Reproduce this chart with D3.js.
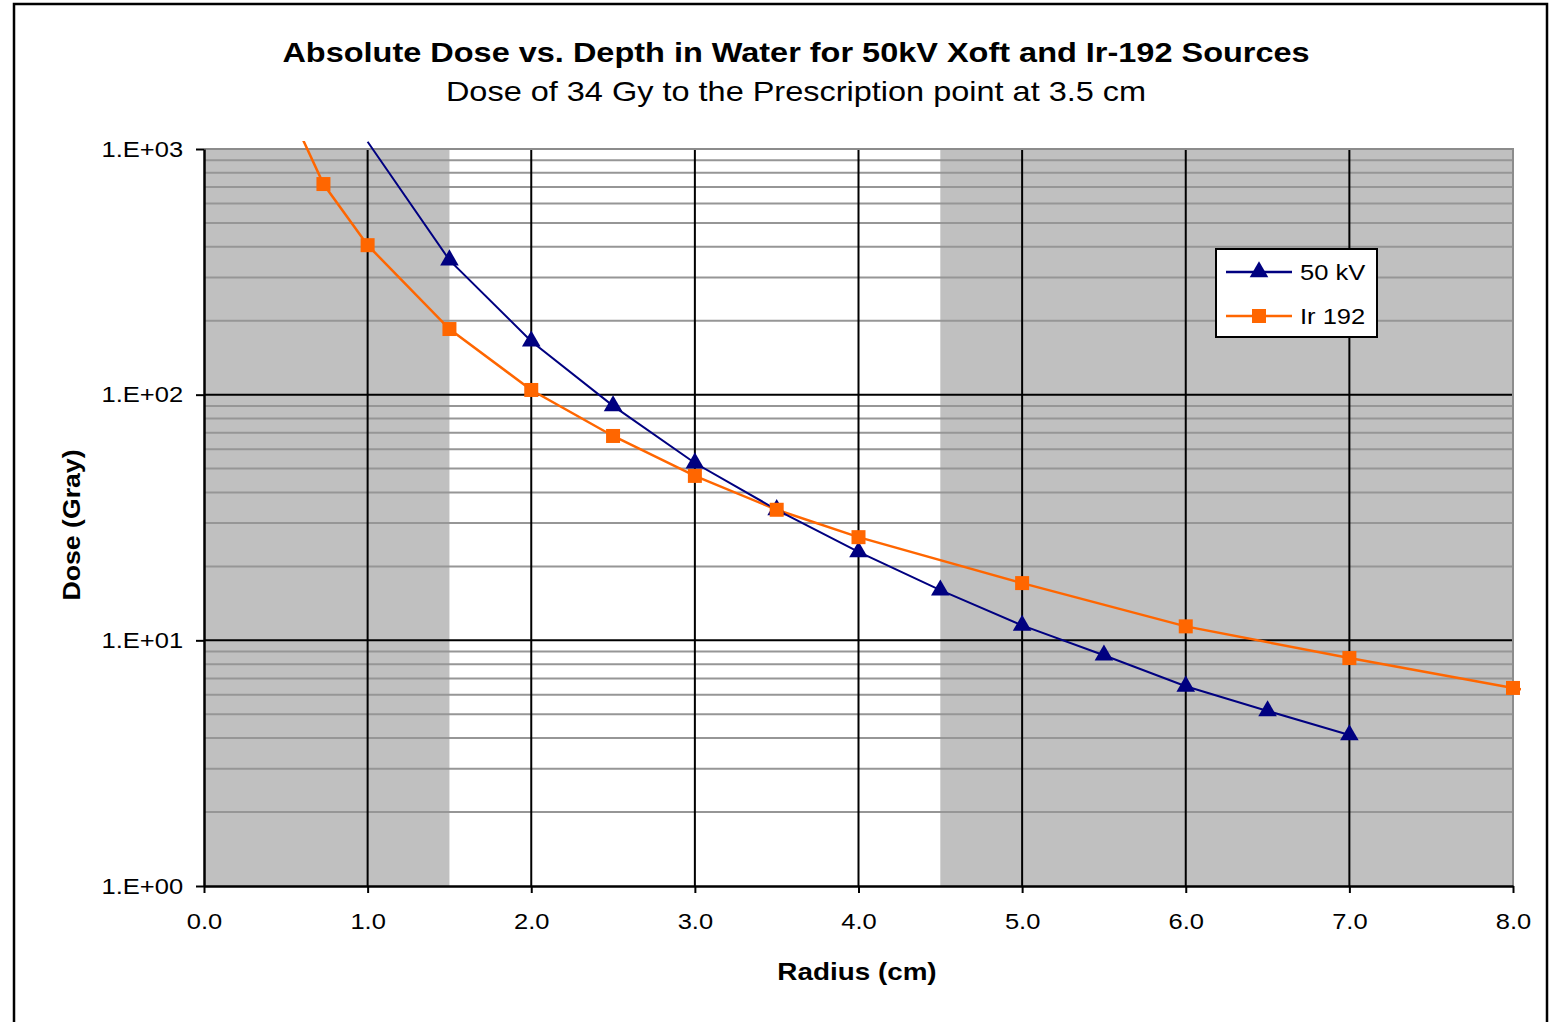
<!DOCTYPE html>
<meta charset="utf-8">
<style>
body { margin: 0; background: #fff; }
text { font-family: "Liberation Sans", Arial, sans-serif; fill: #000; }
.minor { stroke: #969696; stroke-width: 2px; }
.major { stroke: #000; stroke-width: 2px; }
</style>
<svg width="1549" height="1022"></svg>
<script src="https://cdn.jsdelivr.net/npm/d3@7"></script>
<script>
// radius in cm, dose in Gy
const kvRadius = [1.0, 1.5, 2.0, 2.5, 3.0, 3.5, 4.0, 4.5, 5.0, 5.5, 6.0, 6.5, 7.0];
const kvDose   = [1070, 353, 165, 90, 52.7, 34, 22.9, 16.0, 11.5, 8.7, 6.5, 5.16, 4.12];
const irRadius = [0.5, 0.73, 1.0, 1.5, 2.0, 2.5, 3.0, 3.5, 4.0, 5.0, 6.0, 7.0, 8.0, 9.0];
const irDose   = [1545, 720, 406, 185, 104.5, 67.9, 46.7, 34, 26.3, 17.1, 11.4, 8.47, 6.4, 4.9];
const xTicks = [0, 1, 2, 3, 4, 5, 6, 7, 8];
const yTicks = [1, 10, 100, 1000];
const yTickLabels = ['1.E+00', '1.E+01', '1.E+02', '1.E+03'];
const shadedBands = [[0, 1.5], [4.5, 8]];
const seriesNames = ['50 kV', 'Ir 192'];

const SX = 1.16; // the text in the original is drawn a little wide

let svg = d3.select('svg');

let x = d3.scaleLinear().domain([0, 8]).range([204, 1513]);
let y = d3.scaleLog().domain([1, 1000]).range([886, 149]);

// outer frame
svg.append('rect')
    .attr('x', 14).attr('y', 4).attr('width', 1533).attr('height', 1040)
    .attr('fill', 'none').attr('stroke', '#000').attr('stroke-width', 2.5);

// shaded bands
svg.append('g').selectAll('rect')
    .data(shadedBands)
    .enter().append('rect')
        .attr('x', d => x(d[0]))
        .attr('width', d => x(d[1]) - x(d[0]))
        .attr('y', y(1000))
        .attr('height', y(1) - y(1000))
        .attr('fill', '#c0c0c0');

// minor horizontal grid
let minor = [];
for (let dec of [1, 10, 100]) for (let m = 2; m <= 9; m++) minor.push(dec * m);
svg.append('g').selectAll('line')
    .data(minor)
    .enter().append('line')
        .attr('class', 'minor')
        .attr('x1', x(0)).attr('x2', x(8))
        .attr('y1', d => y(d)).attr('y2', d => y(d));

// major grid
svg.append('g').selectAll('line')
    .data([10, 100])
    .enter().append('line')
        .attr('class', 'major')
        .attr('x1', x(0)).attr('x2', x(8))
        .attr('y1', d => y(d)).attr('y2', d => y(d));
svg.append('g').selectAll('line')
    .data(xTicks.slice(1, -1))
    .enter().append('line')
        .attr('class', 'major')
        .attr('x1', d => x(d)).attr('x2', d => x(d))
        .attr('y1', y(1000)).attr('y2', y(1));

// plot area border top/right (gray)
svg.append('path')
    .attr('d', `M${x(0)},${y(1000)}H${x(8)}V${y(1)}`)
    .attr('fill', 'none').attr('stroke', '#8c8c8c').attr('stroke-width', 2);

// axes
let xAxis = svg.append('g')
    .attr('transform', `translate(0,${y(1)})`)
    .call(d3.axisBottom(x).tickValues(xTicks).tickFormat(d3.format('.1f')).tickSizeInner(7).tickSizeOuter(0).tickPadding(20));
let yAxis = svg.append('g')
    .attr('transform', `translate(${x(0)},0)`)
    .call(d3.axisLeft(y).tickValues(yTicks).tickFormat((d, i) => yTickLabels[i]).tickSizeInner(8).tickSizeOuter(0).tickPadding(10));
for (let ax of [xAxis, yAxis]) {
    ax.select('.domain').attr('stroke', '#000').attr('stroke-width', 2.5);
    ax.selectAll('.tick line').attr('stroke', '#000').attr('stroke-width', 2);
    ax.selectAll('.tick text')
        .attr('font-size', 22)
        .attr('font-family', '"Liberation Sans", Arial, sans-serif')
        .attr('transform', `scale(${SX},1)`);
}

// series
svg.append('defs').append('clipPath').attr('id', 'clip')
    .append('rect').attr('x', 0).attr('y', 141).attr('width', 1521).attr('height', 760);

let line = d3.line().x(d => x(d[0])).y(d => y(d[1]));
let kv = kvRadius.map((r, i) => [r, kvDose[i]]);
let ir = irRadius.map((r, i) => [r, irDose[i]]);

let g = svg.append('g').attr('clip-path', 'url(#clip)');
g.append('path').datum(ir).attr('d', line)
    .attr('fill', 'none').attr('stroke', '#ff6600').attr('stroke-width', 2.5);
g.append('path').datum(kv).attr('d', line)
    .attr('fill', 'none').attr('stroke', '#000080').attr('stroke-width', 2);

let inside = d => d[1] <= 1000 && d[0] <= 8;
let tri = d3.symbol().type(d3.symbolTriangle).size(150);
svg.append('g').selectAll('path')
    .data(kv.filter(inside))
    .enter().append('path')
        .attr('d', tri)
        .attr('transform', d => `translate(${x(d[0])},${y(d[1])})`)
        .attr('fill', '#000080');
svg.append('g').selectAll('rect')
    .data(ir.filter(inside))
    .enter().append('rect')
        .attr('x', d => x(d[0]) - 7).attr('y', d => y(d[1]) - 7)
        .attr('width', 14).attr('height', 14)
        .attr('fill', '#ff6600');

// legend
let lg = svg.append('g').attr('transform', 'translate(1216,249)');
lg.append('rect').attr('width', 161).attr('height', 88)
    .attr('fill', '#fff').attr('stroke', '#000').attr('stroke-width', 2);
let colors = ['#000080', '#ff6600'];
seriesNames.forEach((name, i) => {
    let cy = 23 + i * 44;
    lg.append('line').attr('x1', 10).attr('x2', 76).attr('y1', cy).attr('y2', cy)
        .attr('stroke', colors[i]).attr('stroke-width', 2.5);
    if (i === 0) {
        lg.append('path').attr('d', tri).attr('transform', `translate(43,${cy})`).attr('fill', colors[i]);
    } else {
        lg.append('rect').attr('x', 36).attr('y', cy - 7).attr('width', 14).attr('height', 14).attr('fill', colors[i]);
    }
    lg.append('text').attr('transform', `translate(84,${cy + 8}) scale(${SX},1)`)
        .attr('font-size', 22).text(name);
});

// titles
function label(tx, ty, size, bold, str, rot) {
    svg.append('text')
        .attr('transform', `translate(${tx},${ty})${rot ? ' rotate(-90)' : ''} scale(${SX},1)`)
        .attr('text-anchor', 'middle')
        .attr('font-size', size)
        .attr('font-weight', bold ? 'bold' : 'normal')
        .text(str);
}
label(796, 62, 28, true, 'Absolute Dose vs. Depth in Water for 50kV Xoft and Ir-192 Sources');
label(796, 101, 28, false, 'Dose of 34 Gy to the Prescription point at 3.5 cm');
label(857, 980, 24, true, 'Radius (cm)');
label(80, 525, 23, true, 'Dose (Gray)', true);
</script>
